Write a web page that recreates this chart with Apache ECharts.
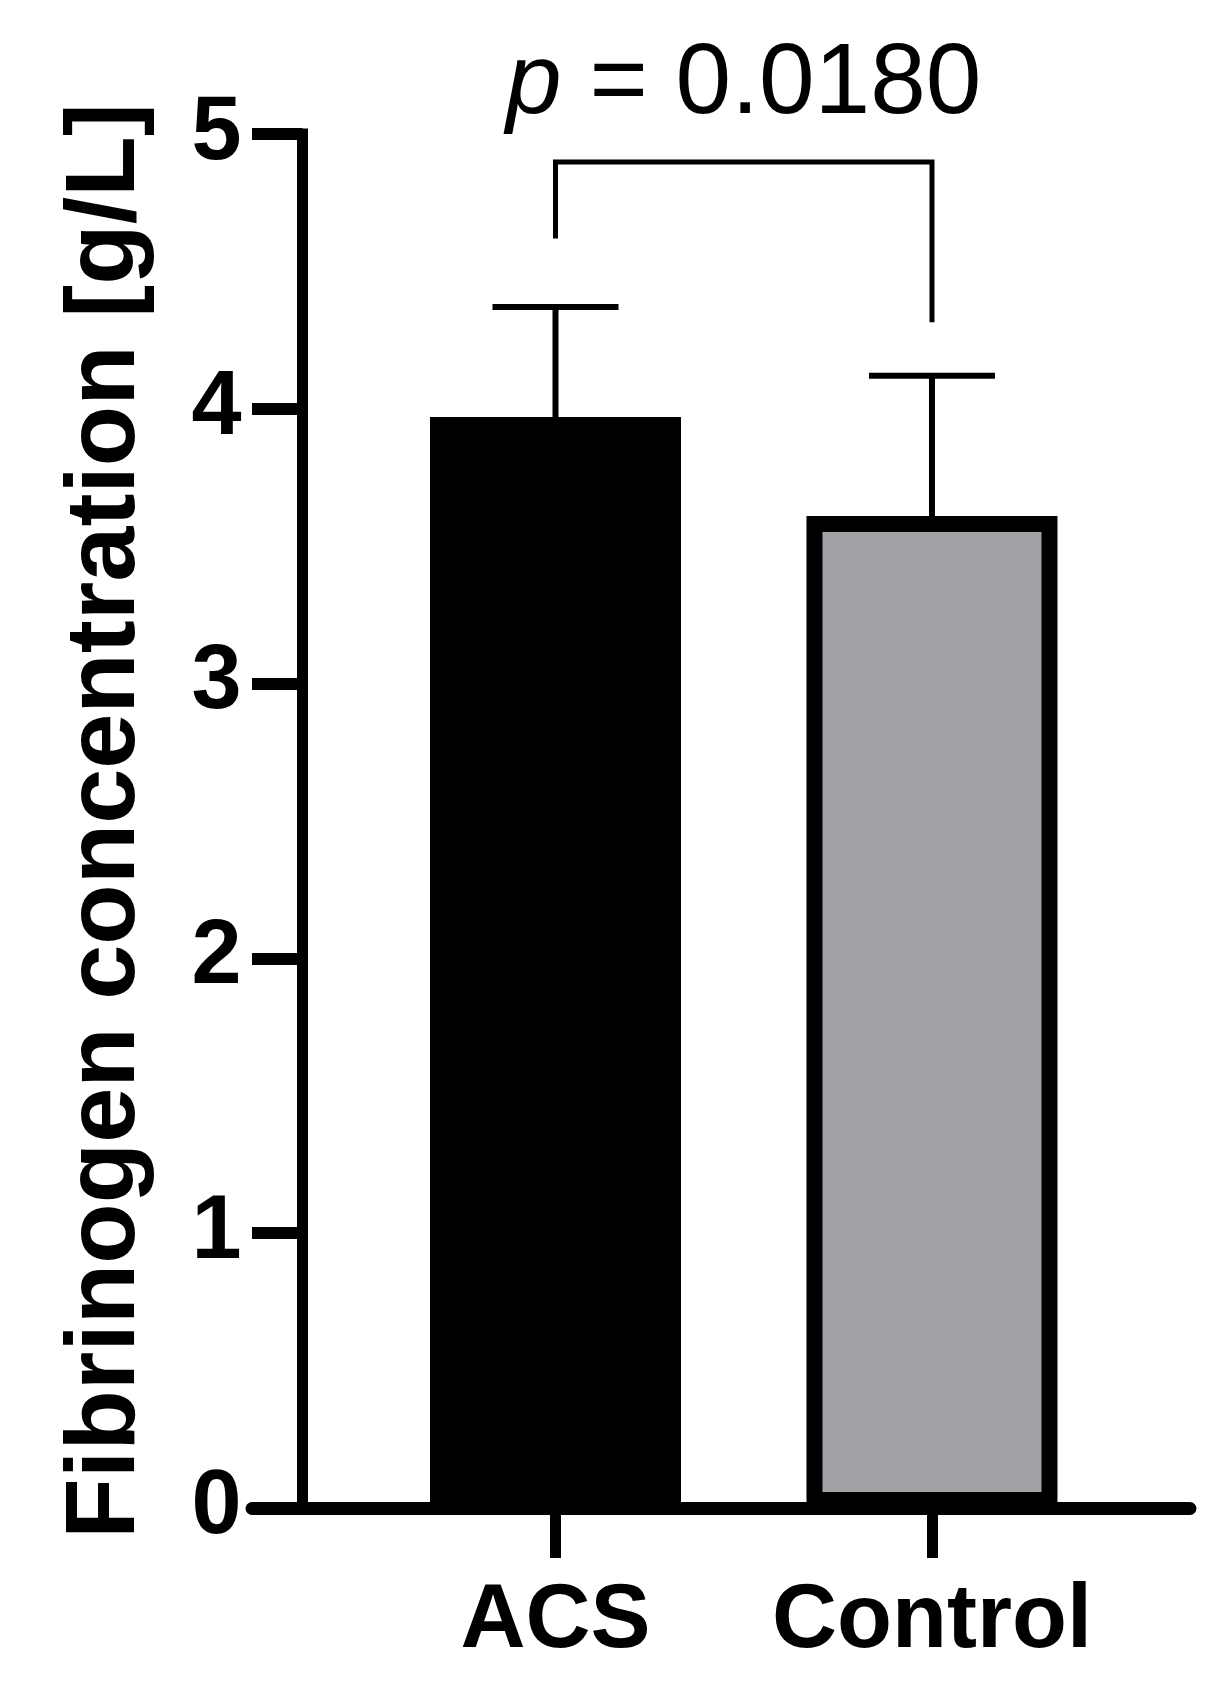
<!DOCTYPE html>
<html>
<head>
<meta charset="utf-8">
<script src="https://cdn.jsdelivr.net/npm/echarts@6/dist/echarts.min.js"></script>
<style>
  html, body { margin: 0; padding: 0; background: #ffffff; }
  #chart { width: 1222px; height: 1696px; }
</style>
</head>
<body>
<div id="chart"></div>
<script>
// ---- data ----
const categories = ['ACS', 'Control'];
const categoryPos = [1, 2];
const means = [3.97, 3.61];
const upperErr = [4.37, 4.12];
const bracketLegBottoms = [4.62, 4.315];
const bracketTop = 4.898;
const pText = 'p = 0.0180';
const yTickValues = [0, 1, 2, 3, 4, 5];
const barColors = ['#000000', '#a3a2a7'];

const FONT = "'Liberation Sans', Arial, Helvetica, sans-serif";

const chart = echarts.init(document.getElementById('chart'), null, { renderer: 'canvas' });

const barData = means.map((m, i) => ({
  value: [categoryPos[i], m],
  itemStyle: { color: barColors[i], borderColor: '#000', borderWidth: 16 }
}));
const errData = means.map((m, i) => [categoryPos[i], m, upperErr[i]]);
const bracketData = [[categoryPos[0], categoryPos[1], bracketLegBottoms[0], bracketLegBottoms[1], bracketTop]];

const option = {
  animation: false,
  backgroundColor: '#ffffff',
  grid: { left: 252, right: 32, top: 134, bottom: 188, containLabel: false },
  xAxis: {
    type: 'value',
    min: 0.1939,
    max: 2.6853,
    splitLine: { show: false },
    axisLine: { show: true, onZero: false, lineStyle: { color: '#000', width: 13 } },
    axisTick: { show: true, customValues: categoryPos, length: 50, lineStyle: { color: '#000', width: 11 } },
    axisLabel: {
      show: true,
      customValues: categoryPos,
      margin: 69,
      color: '#000',
      fontFamily: FONT,
      fontWeight: 'bold',
      fontSize: 90,
      formatter: v => categories[categoryPos.indexOf(Math.round(v))] || ''
    }
  },
  yAxis: {
    type: 'value',
    min: yTickValues[0],
    max: yTickValues[yTickValues.length - 1],
    interval: 1,
    offset: -50.5,
    name: 'Fibrinogen concentration [g/L]',
    nameLocation: 'middle',
    nameGap: 146,
    nameTextStyle: { color: '#000', fontFamily: FONT, fontWeight: 'bold', fontSize: 99 },
    splitLine: { show: false },
    axisLine: { show: true, onZero: false, lineStyle: { color: '#000', width: 11, cap: 'square' } },
    axisTick: { show: true, length: 50.5, lineStyle: { color: '#000', width: 12 } },
    axisLabel: { color: '#000', fontFamily: FONT, fontWeight: 'bold', fontSize: 90, margin: 61 }
  },
  series: [
    {
      type: 'bar',
      data: barData,
      barWidth: 251,
      z: 2
    },
    {
      type: 'custom',
      z: 3,
      clip: false,
      encode: { x: 0, y: [1, 2] },
      data: errData,
      renderItem: function (params, api) {
        const x = api.value(0);
        const p0 = api.coord([x, api.value(1)]);
        const p1 = api.coord([x, api.value(2)]);
        const half = 63;
        return {
          type: 'group',
          children: [
            { type: 'line', shape: { x1: p0[0], y1: p0[1], x2: p1[0], y2: p1[1] }, style: { stroke: '#000', lineWidth: 6 } },
            { type: 'line', shape: { x1: p1[0] - half, y1: p1[1], x2: p1[0] + half, y2: p1[1] }, style: { stroke: '#000', lineWidth: 6 } }
          ]
        };
      }
    },
    {
      type: 'custom',
      z: 3,
      clip: false,
      encode: { x: [0, 1], y: [2, 3, 4] },
      data: bracketData,
      renderItem: function (params, api) {
        const a = api.coord([api.value(0), api.value(2)]);
        const b = api.coord([api.value(1), api.value(3)]);
        const ta = api.coord([api.value(0), api.value(4)]);
        const tb = api.coord([api.value(1), api.value(4)]);
        const cx = (ta[0] + tb[0]) / 2;
        const parts = pText.split(' ');
        return {
          type: 'group',
          children: [
            {
              type: 'polyline',
              shape: { points: [a, ta, tb, b] },
              style: { stroke: '#000', lineWidth: 5, fill: null, lineJoin: 'miter' }
            },
            {
              type: 'text',
              style: {
                x: cx,
                y: ta[1] - 77,
                text: '{i|' + parts[0] + '} ' + parts.slice(1).join(' '),
                align: 'center',
                verticalAlign: 'middle',
                fill: '#000',
                fontFamily: FONT,
                fontSize: 100,
                rich: {
                  i: { fontStyle: 'italic', fontFamily: FONT, fontSize: 100, fill: '#000' }
                }
              }
            }
          ]
        };
      }
    }
  ]
};

chart.setOption(option);
</script>
</body>
</html>
